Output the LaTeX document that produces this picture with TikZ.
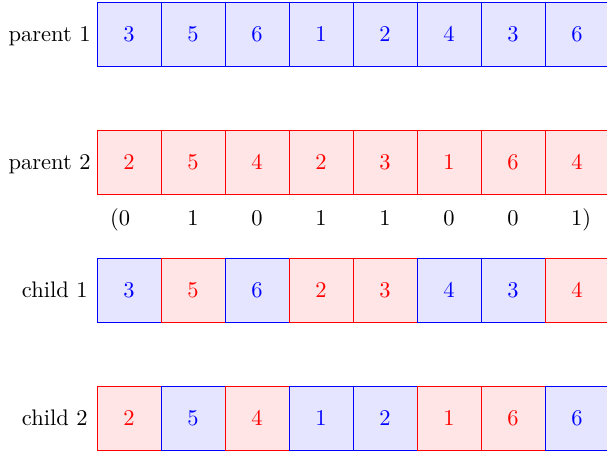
\documentclass[tikz,border=0pt]{standalone}
\begin{document}
\begin{tikzpicture}[
  cellB/.style={draw=blue, fill=blue!10, text=blue, minimum size=1cm, inner sep=0pt, outer sep=0pt},
  cellR/.style={draw=red, fill=red!10, text=red, minimum size=1cm, inner sep=0pt, outer sep=0pt},
  rowlabel/.style={anchor=base east, inner sep=0pt},
  maskbit/.style={anchor=base, inner sep=0pt}
]
\useasboundingbox (0,0) rectangle (9.484,-7.0625);
% parent 1
\foreach \v [count=\i from 0] in {3,5,6,1,2,4,3,6}
  \node[cellB] (pa\i) at (2.016+\i,-0.531) {\v};
% parent 2
\foreach \v [count=\i from 0] in {2,5,4,2,3,1,6,4}
  \node[cellR] (pb\i) at (2.016+\i,-2.531) {\v};
% child 1
\foreach \v/\s [count=\i from 0] in {3/cellB,5/cellR,6/cellB,2/cellR,3/cellR,4/cellB,3/cellB,4/cellR}
  \node[\s] (ca\i) at (2.016+\i,-4.531) {\v};
% child 2
\foreach \v/\s [count=\i from 0] in {2/cellR,5/cellB,4/cellR,1/cellB,2/cellB,1/cellR,6/cellR,6/cellB}
  \node[\s] (cb\i) at (2.016+\i,-6.531) {\v};
% labels
\node[rowlabel] (lpa) at (1.422,-0.641) {parent 1};
\node[rowlabel] (lpb) at (1.422,-2.641) {parent 2};
\node[rowlabel] (lca) at (1.375,-4.641) {child 1};
\node[rowlabel] (lcb) at (1.375,-6.641) {child 2};
% mask
\node[maskbit] (m0) at (1.875,-3.516) {(0};
\node[maskbit] (m1) at (3.016,-3.516) {1};
\node[maskbit] (m2) at (4.016,-3.516) {0};
\node[maskbit] (m3) at (5.016,-3.516) {1};
\node[maskbit] (m4) at (6.016,-3.516) {1};
\node[maskbit] (m5) at (7.016,-3.516) {0};
\node[maskbit] (m6) at (8.016,-3.516) {0};
\node[maskbit] (m7) at (9.078,-3.516) {1)};
\end{tikzpicture}
\end{document}
